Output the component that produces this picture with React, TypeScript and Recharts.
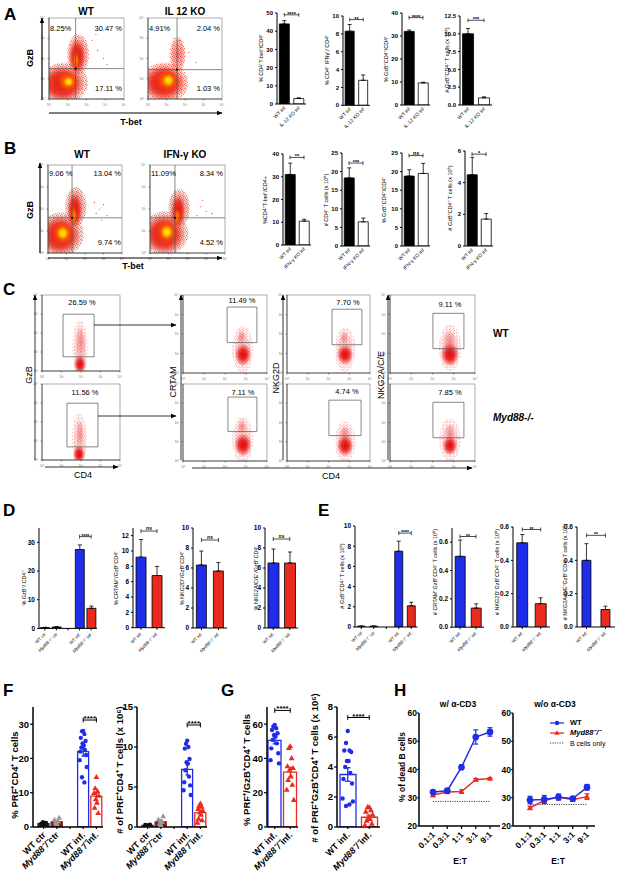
import React from "react";
import {
  BarChart, Bar, Cell, XAxis, YAxis, ZAxis, ErrorBar, ReferenceLine, ReferenceArea, ReferenceDot,
  ComposedChart, Scatter, ScatterChart, LineChart, Line,
} from "recharts";

const FONT = "Arial, 'Liberation Sans', Helvetica, sans-serif";
const BLUE = "#1f2de8";
const RED = "#ea2a1f";
const NAVY = "#1b1f6b";
const DRED = "#8a1414";

// ---------- A: IL-12 KO bars
const catsA = ["WT inf", "IL-12 KO inf"];
const tbetA = [44, 3.0];
const tbetAErr = [1.8, 0.4];
const ifngA = [8.3, 2.8];
const ifngAErr = [0.75, 0.6];
const gzbPctA = [32, 9.6];
const gzbPctAErr = [0.6, 0.3];
const gzbNumA = [10.0, 1.0];
const gzbNumAErr = [0.75, 0.15];

// ---------- B: IFN-g KO bars
const catsB = ["WT inf", "IFN-γ KO inf"];
const tbetB = [31, 10.5];
const tbetBErr = [5, 0.8];
const cd4NumB = [18.3, 6.5];
const cd4NumBErr = [2.7, 1.0];
const gzbPctB = [18.8, 19.5];
const gzbPctBErr = [1.7, 2.7];
const gzbNumB = [4.5, 1.7];
const gzbNumBErr = [1.1, 0.35];

// ---------- D / E
const cats4 = ["WT ctr", "Myd88 ctr", "", "WT inf.", "Myd88 inf."];
const cats2 = ["WT inf.", "Myd88 inf."];
const gzbPctD = [0.3, 0.5, 0, 27.5, 7.0];
const gzbPctDErr = [0.1, 0.1, 0, 1.6, 0.8];
const crtamD = [9.2, 6.8];
const crtamDErr = [2.3, 1.2];
const nkg2dD = [6.3, 5.7];
const nkg2dDErr = [1.4, 0.85];
const nkg2aD = [6.5, 6.5];
const nkg2aDErr = [1.4, 1.1];
const gzbNumE = [0.08, 0.08, 0, 7.5, 2.1];
const gzbNumEErr = [0.02, 0.02, 0, 1.0, 0.35];
const crtamE = [0.5, 0.135];
const crtamEErr = [0.115, 0.03];
const nkg2dE = [0.505, 0.14];
const nkg2dEErr = [0.05, 0.035];
const nkg2aE = [0.4, 0.105];
const nkg2aEErr = [0.1, 0.02];

// ---------- F / G
const catsF = ["WT ctr", "Myd88ctr", "", "WT inf.", "Myd88inf."];
const slotsF = [1, 2, 4, 5];
const catsG = ["WT inf.", "Myd88inf."];
const slotsG = [1, 2];
const prfPctF = [1.0, 1.5, 22, 9.0];
const prfPctFErr = [0.2, 0.3, 1.3, 1.2];
const prfPctWtCtr = [0.4, 0.6, 0.8, 1.0, 1.2, 1.4, 0.9];
const prfPctMydCtr = [0.8, 1.2, 1.5, 2.0, 2.6, 1.0];
const prfPctWtInf = [28, 27.9, 27.1, 26, 25.1, 24.4, 23.8, 23.2, 22.5, 22, 21, 19.5, 17.5, 14.5, 13];
const prfPctMydInf = [14.5, 11.2, 10.3, 9.8, 9, 8, 7, 5.5, 4];
const prfNumF = [0.2, 0.65, 7.2, 1.8];
const prfNumFErr = [0.05, 0.2, 0.7, 0.3];
const prfNumWtCtr = [0.1, 0.15, 0.2, 0.25, 0.3, 0.2];
const prfNumMydCtr = [0.2, 0.4, 0.6, 0.9, 1.3, 0.5];
const prfNumWtInf = [10.8, 10.4, 10.0, 9.8, 8.5, 8.1, 7.9, 7.1, 6.3, 5.6, 5.2, 4.6, 4.0];
const prfNumMydInf = [2.9, 2.6, 2.5, 2.2, 2.0, 1.8, 1.5, 1.0, 0.8, 0.5];
const prfGzbPctG = [50.5, 32];
const prfGzbPctGErr = [2.0, 2.8];
const prfGzbPctWt = [59.6, 58.6, 57.6, 56.6, 54.7, 53.7, 52.7, 50.8, 48.8, 45.9, 43, 39, 37.1];
const prfGzbPctMyd = [46.9, 45.9, 40, 35.2, 34.2, 33.2, 29.3, 27.3, 24.4, 21.5, 15.6];
const prfGzbNumG = [3.5, 0.65];
const prfGzbNumGErr = [0.45, 0.15];
const prfGzbNumWt = [6.4, 5.6, 5.1, 5.1, 5.0, 4.4, 4.4, 4.0, 3.6, 3.2, 2.9, 1.9, 1.7, 1.4, 1.5];
const prfGzbNumMyd = [1.3, 1.3, 1.1, 1.0, 0.8, 0.6, 0.5, 0.4, 0.2, 0.1];

// ---------- H: killing assay
const ratiosH = ["0.1:1", "0.3:1", "1:1", "3:1", "9:1"];
const wtH1 = [32, 32.5, 40.8, 51.5, 53.3];
const wtH1Err = [0.5, 0.5, 0.8, 2.5, 1.5];
const mydH1 = [31, 32, 32.2, 36.4, 36.8];
const mydH1Err = [0.6, 0.4, 0.6, 0.4, 0.3];
const bOnlyH1 = [28.7, 28.7, 28.7, 28.7, 28.7];
const wtH2 = [29.2, 29.4, 30.2, 29.7, 33.7];
const wtH2Err = [1.3, 1.4, 1.0, 0.5, 1.0];
const mydH2 = [26.4, 29, 30.3, 29.3, 30.4];
const mydH2Err = [0.6, 1.0, 1.0, 0.6, 1.0];
const bOnlyH2 = [27.6, 27.6, 27.6, 27.6, 27.6];

// ---------- flow clouds: [centre x, centre y, spread x, spread y] in log decades
type Blob = [number, number, number, number];
const aWtHalo: Blob[] = [[0.8, 0.8, 1.35, 1.05], [1.55, 2.2, 0.62, 1.05]];
const aWtBody: Blob[] = [[0.7, 0.75, 1.15, 0.9], [1.5, 2.1, 0.45, 0.85]];
const aWtCore: Blob[] = [[1.0, 0.85, 0.6, 0.5], [1.45, 1.9, 0.2, 0.5]];
const aWtHot: Blob[] = [[1.05, 0.85, 0.28, 0.25]];
const aWtDots = [{ x: 2.6, y: 2.4 }, { x: 2.9, y: 2.0 }, { x: 2.3, y: 2.9 }, { x: 3.1, y: 1.7 }, { x: 2.5, y: 3.2 }];
const aKoHalo: Blob[] = [[0.9, 0.8, 1.35, 1.05], [1.6, 2.2, 0.45, 0.9]];
const aKoBody: Blob[] = [[0.85, 0.8, 1.15, 0.88]];
const aKoCore: Blob[] = [[1.05, 0.9, 0.65, 0.55]];
const aKoHot: Blob[] = [[1.1, 0.92, 0.32, 0.3]];
const aKoDots = [{ x: 1.7, y: 2.9 }, { x: 2.2, y: 2.3 }, { x: 1.4, y: 3.0 }, { x: 2.6, y: 1.8 }];
const bWtHalo: Blob[] = [[0.7, 0.85, 1.3, 1.05], [1.5, 2.1, 0.6, 0.95]];
const bWtBody: Blob[] = [[0.65, 0.8, 1.1, 0.9], [1.45, 1.95, 0.4, 0.8]];
const bWtCore: Blob[] = [[0.8, 0.9, 0.6, 0.55], [1.4, 1.7, 0.2, 0.45]];
const bWtHot: Blob[] = [[0.8, 0.9, 0.32, 0.3]];
const bWtDots = [{ x: 2.8, y: 2.0 }, { x: 3.0, y: 2.2 }, { x: 2.6, y: 1.8 }, { x: 3.2, y: 1.7 }, { x: 2.9, y: 1.5 }, { x: 2.5, y: 2.3 }];
const bKoHalo: Blob[] = [[0.8, 0.9, 1.3, 1.05], [1.55, 2.05, 0.6, 0.9]];
const bKoBody: Blob[] = [[0.75, 0.85, 1.1, 0.9], [1.5, 1.9, 0.38, 0.75]];
const bKoCore: Blob[] = [[0.9, 0.95, 0.6, 0.55], [1.45, 1.65, 0.2, 0.4]];
const bKoHot: Blob[] = [[0.9, 0.95, 0.32, 0.3]];
const bKoDots = [{ x: 2.7, y: 2.1 }, { x: 3.0, y: 1.9 }, { x: 2.5, y: 1.7 }, { x: 3.3, y: 1.8 }, { x: 2.8, y: 2.4 }];
// panel C: halo (sparse), tail (faint upper part), body (dense)
const cGzbWtHalo: Blob[] = [[1.95, 1.2, 0.4, 1.45]];
const cGzbWtTail: Blob[] = [[1.98, 1.5, 0.25, 0.95]];
const cGzbWtBody: Blob[] = [[1.95, 0.35, 0.32, 0.5]];
const cGzbKoHalo: Blob[] = [[1.92, 1.1, 0.38, 1.35]];
const cGzbKoTail: Blob[] = [[1.95, 1.35, 0.2, 0.75]];
const cGzbKoBody: Blob[] = [[1.9, 0.3, 0.32, 0.48]];
const cCrtamWtHalo: Blob[] = [[2.84, 1.2, 0.5, 1.2]];
const cCrtamWtTail: Blob[] = [[2.78, 1.85, 0.22, 0.45]];
const cCrtamWtBody: Blob[] = [[2.86, 0.95, 0.4, 0.58]];
const cNkg2dWtHalo: Blob[] = [[2.8, 1.2, 0.5, 1.15]];
const cNkg2dWtTail: Blob[] = [[2.75, 1.8, 0.2, 0.42]];
const cNkg2dWtBody: Blob[] = [[2.8, 0.95, 0.4, 0.52]];
const cNkg2aWtHalo: Blob[] = [[2.82, 1.3, 0.52, 1.2]];
const cNkg2aWtTail: Blob[] = [[2.8, 1.6, 0.3, 0.6]];
const cNkg2aWtBody: Blob[] = [[2.82, 0.95, 0.44, 0.62]];
const cCrtamKoHalo: Blob[] = [[2.84, 1.1, 0.5, 1.2]];
const cCrtamKoTail: Blob[] = [[2.8, 1.8, 0.22, 0.45]];
const cCrtamKoBody: Blob[] = [[2.86, 0.85, 0.42, 0.6]];
const cNkg2dKoHalo: Blob[] = [[2.8, 1.0, 0.5, 1.05]];
const cNkg2dKoTail: Blob[] = [[2.78, 1.4, 0.25, 0.5]];
const cNkg2dKoBody: Blob[] = [[2.8, 0.8, 0.4, 0.55]];
const cNkg2aKoHalo: Blob[] = [[2.82, 1.1, 0.5, 1.1]];
const cNkg2aKoTail: Blob[] = [[2.82, 1.4, 0.25, 0.55]];
const cNkg2aKoBody: Blob[] = [[2.82, 0.8, 0.35, 0.5]];
// gates: [x1, x2, y1, y2]
const gatesC: Record<string, [number, number, number, number]> = {
  gzbWt: [1.08, 2.67, 0.75, 2.99], gzbKo: [1.28, 2.87, 0.69, 2.99],
  crtamWt: [2.1, 3.52, 1.56, 3.38], nkg2dWt: [2.17, 3.61, 1.45, 3.27], nkg2aWt: [2.02, 3.48, 1.25, 3.06],
  crtamKo: [2.14, 3.52, 1.53, 3.32], nkg2dKo: [2.02, 3.57, 1.32, 3.16], nkg2aKo: [2.02, 3.48, 1.21, 3.05],
};
const decades = [0, 1, 2, 3, 4];
const JIT = [0, -1, 1, -2, 2, -0.5, 0.5, -1.5, 1.5, -2.5, 2.5, -3, 3, -1, 1];

function CatTick(props: any) {
  const { x, y, payload, fs, bold } = props;
  const raw = payload.value;
  if (!raw) return null;
  const v = String(raw);
  const content = v.startsWith("Myd88") ? (
    <>
      <tspan fontStyle="italic">Myd88⁻/⁻</tspan>
      <tspan>{v.slice(5)}</tspan>
    </>
  ) : v;
  const px = x + fs * 0.3;
  const py = y + fs * 0.5;
  return (
    <text x={px} y={py} textAnchor="end" fontSize={fs} fontWeight={bold ? 700 : 400} fill="#000" transform={`rotate(-45 ${px} ${py})`}>
      {content}
    </text>
  );
}

function LogTick(props: any) {
  const { x, y, payload, axis } = props;
  const sup = ["⁰", "¹", "²", "³", "⁴"][payload.value];
  return axis === "y" ? (
    <text x={x - 0.5} y={y + 1} textAnchor="end" fontSize={3.2} fill="#777">10{sup}</text>
  ) : (
    <text x={x} y={y + 3} textAnchor="middle" fontSize={3.2} fill="#777">10{sup}</text>
  );
}

function blobShape(fill: string) {
  return (props: any) => {
    const { x, y, width, height, clipPath } = props;
    if (![x, y, width, height].every((n) => Number.isFinite(n))) return <g />;
    return <ellipse cx={x + width / 2} cy={y + height / 2} rx={Math.abs(width) / 2} ry={Math.abs(height) / 2} fill={fill} clipPath={clipPath} />;
  };
}

function bracket(a: any, b: any, y: number, d: number, text: string, fs: number, sw: number, axisId: any = 0) {
  const common = { stroke: "#000", strokeWidth: sw, ifOverflow: "visible" as const, xAxisId: axisId };
  const isNs = text === "ns";
  return [
    <ReferenceLine key="bm" segment={[{ x: a, y }, { x: b, y }]} {...common}
      label={{ value: text, position: "top", fontSize: fs, fill: "#000", offset: isNs ? 1 : -1, fontStyle: isNs ? "italic" : "normal", fontWeight: 700 }} />,
    <ReferenceLine key="ba" segment={[{ x: a, y: y - d }, { x: a, y: y + d }]} {...common} />,
    <ReferenceLine key="bb" segment={[{ x: b, y: y - d }, { x: b, y: y + d }]} {...common} />,
  ];
}

function BarPanel(p: any) {
  const yw = 24, mt = 12, xh = 40, mr = 3;
  const w = p.x1 - p.x0 + yw + mr;
  const h = p.yBot - p.yTop + mt + xh;
  const rows = p.cats.map((c: string, i: number) => ({ cat: c, v: p.vals[i], e: [0, p.errs[i]] }));
  const span = p.domain[1] - p.domain[0];
  const [ia, ib, sy, st] = p.sig;
  return (
    <div style={{ position: "absolute", left: p.x0 - yw, top: p.yTop - mt }}>
      <BarChart width={w} height={h} data={rows} margin={{ top: mt, right: mr, left: 0, bottom: 0 }} barCategoryGap={p.gap}>
        <XAxis dataKey="cat" interval={0} height={xh} tickSize={p.xTick ? 2 : 0} tickLine={p.xTick ? { stroke: "#000" } : false}
          axisLine={{ stroke: "#000", strokeWidth: 1 }} tick={<CatTick fs={p.catFs} />} />
        <YAxis type="number" domain={p.domain} ticks={p.ticks} interval={0} allowDataOverflow width={yw} tickSize={2}
          tickFormatter={p.fmt} tick={{ fontSize: p.tickFs, fill: "#000", fontWeight: 700 }}
          axisLine={{ stroke: "#000", strokeWidth: 1 }} tickLine={{ stroke: "#000" }} />
        <Bar dataKey="v" stroke="#000" strokeWidth={0.8} isAnimationActive={false}>
          {rows.map((_r: any, i: number) => <Cell key={i} fill={p.fills[i]} />)}
          <ErrorBar dataKey="e" width={2} stroke="#000" strokeWidth={0.8} direction="y" />
        </Bar>
        {bracket(p.cats[ia], p.cats[ib], sy, span * 0.02, st, p.sigFs, 0.7)}
      </BarChart>
    </div>
  );
}

function DotBarPanel(p: any) {
  const yw = 22, mt = 12, xh = 48, mr = 3;
  const w = p.x1 - p.x0 + yw + mr;
  const h = p.yBot - p.yTop + mt + xh;
  const n = p.cats.length;
  const rows = p.cats.map((c: string, i: number) => {
    const gi = p.slots.indexOf(i + 1);
    return { name: c, y: gi >= 0 ? p.vals[gi] : 0 };
  });
  const span = p.domain[1] - p.domain[0];
  const [sa, sb, sy] = p.sig;
  const pad = { left: p.padL || 0, right: 0 };
  const cap = 0.13;
  return (
    <div style={{ position: "absolute", left: p.x0 - yw, top: p.yTop - mt }}>
      <ComposedChart width={w} height={h} data={rows} margin={{ top: mt, right: mr, left: 0, bottom: 0 }}>
        <XAxis xAxisId="c" dataKey="name" type="category" interval={0} padding={pad} height={xh}
          tickSize={2} tickLine={{ stroke: "#000", strokeWidth: 1.2 }} axisLine={{ stroke: "#000", strokeWidth: 1.5 }}
          tick={<CatTick fs={9} bold />} />
        <XAxis xAxisId="n" type="number" dataKey="x" domain={[0.5, n + 0.5]} padding={pad} allowDataOverflow hide />
        <YAxis type="number" domain={p.domain} ticks={p.ticks} interval={0} allowDataOverflow width={yw} tickSize={3} tickMargin={1}
          tick={{ fontSize: 9.5, fill: "#000", fontWeight: 700 }} axisLine={{ stroke: "#000", strokeWidth: 1.5 }}
          tickLine={{ stroke: "#000", strokeWidth: 1.2 }} />
        <ZAxis range={[15, 15]} />
        <Bar xAxisId="c" dataKey="y" barSize={p.barSize} isAnimationActive={false}>
          {rows.map((_r: any, i: number) => {
            const gi = p.slots.indexOf(i + 1);
            return <Cell key={i} fill={gi >= 0 ? p.barFills[gi] : "none"} stroke={gi >= 0 ? p.barStrokes[gi] : "none"} strokeWidth={1.3} />;
          })}
        </Bar>
        {p.pts.map((arr: number[], gi: number) => (
          <Scatter key={`p${gi}`} xAxisId="n" dataKey="y" fill={p.ptColors[gi]} shape={p.ptShapes[gi]} isAnimationActive={false}
            data={arr.map((v, j) => ({ x: p.slots[gi] + JIT[j % JIT.length] * p.spread, y: v }))} />
        ))}
        {p.slots.map((s: number, gi: number) => {
          const v = p.vals[gi], e = p.errs[gi];
          const c = { stroke: p.barStrokes[gi], strokeWidth: 1.3, ifOverflow: "visible" as const, xAxisId: "n" };
          return [
            <ReferenceLine key={`ev${gi}`} segment={[{ x: s, y: v - e }, { x: s, y: v + e }]} {...c} />,
            <ReferenceLine key={`et${gi}`} segment={[{ x: s - cap, y: v + e }, { x: s + cap, y: v + e }]} {...c} />,
            <ReferenceLine key={`eb${gi}`} segment={[{ x: s - cap, y: v - e }, { x: s + cap, y: v - e }]} {...c} />,
          ];
        })}
        {bracket(sa, sb, sy, span * 0.02, "****", 8, 1, "n")}
      </ComposedChart>
    </div>
  );
}

function TriDot(props: any) {
  const { cx, cy } = props;
  if (cx == null || cy == null) return <g />;
  return <path d={`M${cx},${cy - 3.2} L${cx + 3},${cy + 2.2} L${cx - 3},${cy + 2.2} Z`} fill={RED} />;
}

function LinePanel(p: any) {
  const yw = 20, mt = 6, xh = 36, mr = 3;
  const w = p.x1 - p.x0 + yw + mr;
  const h = p.yBot - p.yTop + mt + xh;
  const rows = ratiosH.map((c, i) => ({ cat: c, wt: p.wt[i], wtE: p.wtE[i], myd: p.myd[i], mydE: p.mydE[i], b: p.bOnly[i] }));
  return (
    <div style={{ position: "absolute", left: p.x0 - yw, top: p.yTop - mt }}>
      <LineChart width={w} height={h} data={rows} margin={{ top: mt, right: mr, left: 0, bottom: 0 }}>
        <XAxis dataKey="cat" interval={0} padding={{ left: p.padL, right: p.padR }} height={xh} tickSize={3}
          tickLine={{ stroke: "#000", strokeWidth: 1.2 }} axisLine={{ stroke: "#000", strokeWidth: 1.5 }}
          tick={<CatTick fs={8.5} bold />} />
        <YAxis type="number" domain={[20, 60]} ticks={[20, 30, 40, 50, 60]} interval={0} allowDataOverflow width={yw} tickSize={2} tickMargin={0}
          tick={{ fontSize: 8.5, fill: "#000", fontWeight: 700 }} axisLine={{ stroke: "#000", strokeWidth: 1.5 }}
          tickLine={{ stroke: "#000", strokeWidth: 1.2 }} />
        <Line dataKey="b" stroke="#444" strokeWidth={1} strokeDasharray="1.2 1.2" dot={false} isAnimationActive={false} />
        <Line dataKey="myd" stroke={RED} strokeWidth={1.5} dot={<TriDot />} isAnimationActive={false}>
          <ErrorBar dataKey="mydE" width={2.5} stroke={RED} strokeWidth={1.2} direction="y" />
        </Line>
        <Line dataKey="wt" stroke={BLUE} strokeWidth={1.5} dot={{ r: 2.6, fill: BLUE, stroke: BLUE }} isAnimationActive={false}>
          <ErrorBar dataKey="wtE" width={2.5} stroke={BLUE} strokeWidth={1.2} direction="y" />
        </Line>
      </LineChart>
    </div>
  );
}

function FlowPlot(p: any) {
  const ml = 9, mb = 7;
  const layers: [Blob[], string][] = p.layers;
  return (
    <div style={{ position: "absolute", left: p.left - ml, top: p.top }}>
      <ScatterChart width={p.w + ml + 1} height={p.h + mb + 1} margin={{ top: 0, right: 1, left: 0, bottom: 0 }}>
        <XAxis type="number" dataKey="x" domain={[0, 4]} ticks={decades} interval={0} allowDataOverflow height={mb} tickSize={1.5}
          tick={<LogTick axis="x" />} axisLine={{ stroke: "#333", strokeWidth: 0.7 }} tickLine={{ stroke: "#333", strokeWidth: 0.5 }} />
        <YAxis type="number" dataKey="y" domain={[0, 4]} ticks={decades} interval={0} allowDataOverflow width={ml} tickSize={1.5}
          tick={<LogTick axis="y" />} axisLine={{ stroke: "#333", strokeWidth: 0.7 }} tickLine={{ stroke: "#333", strokeWidth: 0.5 }} />
        {layers.map(([blobs, fill], li) =>
          blobs.map((b, i) => (
            <ReferenceArea key={`${li}-${i}`} x1={b[0] - b[2]} x2={b[0] + b[2]} y1={b[1] - b[3]} y2={b[1] + b[3]}
              ifOverflow="hidden" shape={blobShape(fill)} />
          ))
        )}
        <Scatter data={p.dots || []} fill="#e8281c" isAnimationActive={false}
          shape={(s: any) => <circle cx={s.cx} cy={s.cy} r={0.55} fill="#e8281c" />} />
        {p.q && <ReferenceLine x={p.q[0]} stroke="#555" strokeWidth={0.7} />}
        {p.q && <ReferenceLine y={p.q[1]} stroke="#555" strokeWidth={0.7} />}
        {p.q && <ReferenceDot x={p.q[0]} y={p.q[1]} r={1.1} fill="#000" stroke="none" />}
        {p.gate && (
          <ReferenceArea x1={p.gate[0]} x2={p.gate[1]} y1={p.gate[2]} y2={p.gate[3]} fill="none" fillOpacity={0}
            stroke="#555" strokeWidth={0.7} ifOverflow="visible" />
        )}
        <ReferenceArea x1={0} x2={4} y1={0} y2={4} fill="none" fillOpacity={0} stroke="#777" strokeWidth={0.6} ifOverflow="visible" />
      </ScatterChart>
    </div>
  );
}

function T(p: any) {
  const a = p.anchor || "middle";
  const tx = a === "middle" ? "-50%" : a === "end" ? "-100%" : "0";
  return (
    <div style={{
      position: "absolute", left: p.x, top: p.y, transform: `translate(${tx}, -50%)`, fontSize: p.fs || 8,
      fontWeight: p.bold ? 700 : 400, fontStyle: p.italic ? "italic" : "normal", whiteSpace: "nowrap", lineHeight: 1, color: "#000",
    }}>{p.children}</div>
  );
}

function VLabel(p: any) {
  return (
    <div style={{
      position: "absolute", left: p.x, top: p.y, transform: "translate(-50%, -50%) rotate(-90deg)", fontSize: p.fs || 5.5,
      fontWeight: p.bold ? 700 : 400, whiteSpace: "nowrap", lineHeight: 1, color: "#000",
    }}>{p.children}</div>
  );
}

function Defs() {
  return (
    <svg width={0} height={0} style={{ position: "absolute" }}>
      <defs>
        <radialGradient id="gHalo">
          <stop offset="0%" stopColor="#e8201a" stopOpacity={0.6} />
          <stop offset="70%" stopColor="#ec3020" stopOpacity={0.3} />
          <stop offset="100%" stopColor="#f04020" stopOpacity={0} />
        </radialGradient>
        <radialGradient id="gRed">
          <stop offset="0%" stopColor="#e0100a" stopOpacity={0.95} />
          <stop offset="60%" stopColor="#e61a0c" stopOpacity={0.75} />
          <stop offset="100%" stopColor="#f03010" stopOpacity={0} />
        </radialGradient>
        <radialGradient id="gOrange">
          <stop offset="0%" stopColor="#ff8c00" stopOpacity={1} />
          <stop offset="50%" stopColor="#ff6a00" stopOpacity={0.75} />
          <stop offset="100%" stopColor="#ff4000" stopOpacity={0} />
        </radialGradient>
        <radialGradient id="gYellow">
          <stop offset="0%" stopColor="#e6f500" stopOpacity={1} />
          <stop offset="50%" stopColor="#ffd000" stopOpacity={0.85} />
          <stop offset="100%" stopColor="#ffa000" stopOpacity={0} />
        </radialGradient>
        <radialGradient id="gRedC">
          <stop offset="0%" stopColor="#e00808" stopOpacity={1} />
          <stop offset="45%" stopColor="#e51010" stopOpacity={0.85} />
          <stop offset="80%" stopColor="#ea2020" stopOpacity={0.35} />
          <stop offset="100%" stopColor="#ef3030" stopOpacity={0} />
        </radialGradient>
        <radialGradient id="gRedCTail">
          <stop offset="0%" stopColor="#ea2a2a" stopOpacity={0.45} />
          <stop offset="60%" stopColor="#ee3a3a" stopOpacity={0.22} />
          <stop offset="100%" stopColor="#f04848" stopOpacity={0} />
        </radialGradient>
        <pattern id="pSpeck" width={4} height={4} patternUnits="userSpaceOnUse">
          <rect x={0.3} y={0.2} width={0.8} height={0.8} fill="#e82a1a" />
          <rect x={2.1} y={0.9} width={0.8} height={0.8} fill="#ef4a1a" />
          <rect x={1.0} y={2.0} width={0.8} height={0.8} fill="#e82a1a" />
          <rect x={3.0} y={2.6} width={0.8} height={0.8} fill="#ef3a1a" />
          <rect x={2.0} y={3.3} width={0.7} height={0.7} fill="#e82a1a" />
        </pattern>
        <pattern id="pSpeckC" width={3.4} height={3.4} patternUnits="userSpaceOnUse">
          <rect x={0.2} y={0.3} width={0.7} height={0.7} fill="#ee2a2a" />
          <rect x={2.0} y={1.0} width={0.7} height={0.7} fill="#ef4040" />
          <rect x={1.1} y={2.4} width={0.7} height={0.7} fill="#ee2a2a" />
        </pattern>
        <pattern id="pSpeckC2" width={3.4} height={3.4} patternUnits="userSpaceOnUse">
          <rect x={1.3} y={0.1} width={0.7} height={0.7} fill="#e82020" />
          <rect x={2.7} y={2.2} width={0.7} height={0.7} fill="#ee3030" />
          <rect x={0.1} y={1.7} width={0.7} height={0.7} fill="#e82020" />
        </pattern>
      </defs>
    </svg>
  );
}

function Arrows() {
  const lines: [number, number, number, number][] = [
    [42, 100, 42, 18], [49, 113, 222, 113], [40, 253, 40, 163], [48, 258, 222, 258],
    [35, 460, 35, 295], [181, 460, 181, 295], [283, 460, 283, 295], [388, 460, 388, 295],
    [45, 467, 118, 467], [192, 468, 472, 468], [94, 325, 176, 325], [98, 416, 176, 416],
  ];
  return (
    <svg width={617} height={872} style={{ position: "absolute", left: 0, top: 0, pointerEvents: "none" }}>
      <defs>
        <marker id="ah" markerWidth={6} markerHeight={6} refX={5} refY={3} orient="auto" markerUnits="userSpaceOnUse">
          <path d="M0,0.8 L5.5,3 L0,5.2 Z" fill="#000" />
        </marker>
      </defs>
      {lines.map((l, i) => (
        <line key={i} x1={l[0]} y1={l[1]} x2={l[2]} y2={l[3]} stroke="#000" strokeWidth={i < 4 ? 1.2 : 0.8} markerEnd="url(#ah)" />
      ))}
    </svg>
  );
}

function FlowQuadLabels(p: any) {
  return (
    <>
      <T x={p.l} y={p.top} fs={7.5} anchor="start">{p.ul}</T>
      <T x={p.r} y={p.top} fs={7.5} anchor="end">{p.ur}</T>
      <T x={p.r} y={p.bot} fs={7.5} anchor="end">{p.lr}</T>
    </>
  );
}

const grow = (bs: Blob[], k: number): Blob[] => bs.map((b) => [b[0], b[1], b[2] * k, b[3] * k]);

export default function App() {
  const flowA = (h: Blob[], b: Blob[], c: Blob[], y: Blob[]): [Blob[], string][] =>
    [[h, "url(#gHalo)"], [grow(h, 0.95), "url(#pSpeck)"], [b, "url(#gRed)"], [c, "url(#gOrange)"], [y, "url(#gYellow)"]];
  const flowC = (h: Blob[], t: Blob[], b: Blob[]): [Blob[], string][] =>
    [[h, "url(#pSpeckC)"], [grow(h, 0.7), "url(#pSpeckC2)"], [t, "url(#gRedCTail)"], [b, "url(#gRedC)"]];
  const fmt1 = (v: number) => v.toFixed(1);
  const abCommon = { tickFs: 6, catFs: 5, sigFs: 5.5, gap: "16%", fills: ["#000", "#fff"] };
  const deCommon = { tickFs: 6.5, catFs: 4.5, sigFs: 5, xTick: true };
  const fill4 = ["#777", "#333", "#fff", BLUE, RED];
  const fill2 = [BLUE, RED];
  return (
    <div style={{ position: "absolute", left: 0, top: 0, width: 617, height: 872, background: "#fff", fontFamily: FONT, overflow: "hidden" }}>
      <style>{`.recharts-surface{overflow:visible}`}</style>
      <Defs />

      {/* panel letters */}
      <T x={4} y={14} fs={17} bold anchor="start">A</T>
      <T x={4} y={148} fs={17} bold anchor="start">B</T>
      <T x={3} y={289} fs={17} bold anchor="start">C</T>
      <T x={3} y={510} fs={17} bold anchor="start">D</T>
      <T x={318} y={510} fs={17} bold anchor="start">E</T>
      <T x={3} y={690} fs={17} bold anchor="start">F</T>
      <T x={221} y={690} fs={17} bold anchor="start">G</T>
      <T x={394} y={690} fs={17} bold anchor="start">H</T>

      {/* A flow */}
      <FlowPlot left={49} top={18} w={75} h={80} q={[1.42, 1.5]} dots={aWtDots} layers={flowA(aWtHalo, aWtBody, aWtCore, aWtHot)} />
      <FlowPlot left={148} top={18} w={74} h={80} q={[1.57, 1.45]} dots={aKoDots} layers={flowA(aKoHalo, aKoBody, aKoCore, aKoHot)} />
      <T x={86} y={12} fs={10} bold>WT</T>
      <T x={185} y={12} fs={10} bold>IL 12 KO</T>
      <FlowQuadLabels l={50} r={122} top={29} bot={89} ul="8.25%" ur="30.47 %" lr="17.11 %" />
      <FlowQuadLabels l={149} r={220} top={29} bot={89} ul="4.91%" ur="2.04 %" lr="1.03 %" />
      <VLabel x={30} y={58} fs={9} bold>GzB</VLabel>
      <T x={131} y={122} fs={9} bold>T-bet</T>

      {/* B flow */}
      <FlowPlot left={48} top={165} w={74} h={87} q={[1.3, 1.6]} dots={bWtDots} layers={flowA(bWtHalo, bWtBody, bWtCore, bWtHot)} />
      <FlowPlot left={150} top={165} w={75} h={87} q={[1.33, 1.6]} dots={bKoDots} layers={flowA(bKoHalo, bKoBody, bKoCore, bKoHot)} />
      <T x={82} y={155} fs={10} bold>WT</T>
      <T x={185} y={155} fs={10} bold>IFN-γ KO</T>
      <FlowQuadLabels l={49} r={121} top={174} bot={243} ul="9.06 %" ur="13.04 %" lr="9.74 %" />
      <FlowQuadLabels l={151} r={223} top={174} bot={243} ul="11.09%" ur="8.34 %" lr="4.52 %" />
      <VLabel x={30} y={210} fs={9} bold>GzB</VLabel>
      <T x={133} y={266} fs={9} bold>T-bet</T>

      {/* A bars */}
      <BarPanel {...abCommon} x0={277} x1={306} yTop={13} yBot={104} cats={catsA} vals={tbetA} errs={tbetAErr}
        domain={[0, 50]} ticks={[0, 10, 20, 30, 40, 50]} sig={[0, 1, 49, "****"]} />
      <BarPanel {...abCommon} x0={343} x1={370} yTop={15.7} yBot={105} cats={catsA} vals={ifngA} errs={ifngAErr}
        domain={[0, 10]} ticks={[0, 2, 4, 6, 8, 10]} sig={[0, 1, 9.6, "**"]} />
      <BarPanel {...abCommon} x0={402} x1={430} yTop={13} yBot={105} cats={catsA} vals={gzbPctA} errs={gzbPctAErr}
        domain={[0, 40]} ticks={[0, 10, 20, 30, 40]} sig={[0, 1, 38, "****"]} />
      <BarPanel {...abCommon} x0={460} x1={492} yTop={16} yBot={105} cats={catsA} vals={gzbNumA} errs={gzbNumAErr}
        domain={[0, 12.5]} ticks={[0, 2.5, 5, 7.5, 10, 12.5]} fmt={fmt1} sig={[0, 1, 11.9, "***"]} />
      <VLabel x={262} y={58}>% CD4⁺T-bet⁺/CD4⁺</VLabel>
      <VLabel x={328} y={60}>% CD4⁺ IFNγ⁺/ CD4⁺</VLabel>
      <VLabel x={387} y={59}>% GzB⁺CD4⁺/CD4⁺</VLabel>
      <VLabel x={448} y={60}>{"# GzB⁺CD4⁺ T cells (x 10⁶)"}</VLabel>

      {/* B bars */}
      <BarPanel {...abCommon} x0={283} x1={311} yTop={154} yBot={245} cats={catsB} vals={tbetB} errs={tbetBErr}
        domain={[0, 40]} ticks={[0, 10, 20, 30, 40]} sig={[0, 1, 38.5, "**"]} />
      <BarPanel {...abCommon} x0={342} x1={370} yTop={153} yBot={246} cats={catsB} vals={cd4NumB} errs={cd4NumBErr}
        domain={[0, 25]} ticks={[0, 5, 10, 15, 20, 25]} sig={[0, 1, 22.3, "***"]} />
      <BarPanel {...abCommon} x0={402} x1={430} yTop={153} yBot={246} cats={catsB} vals={gzbPctB} errs={gzbPctBErr}
        domain={[0, 25]} ticks={[0, 5, 10, 15, 20, 25]} sig={[0, 1, 24.3, "ns"]} />
      <BarPanel {...abCommon} x0={465} x1={493} yTop={151} yBot={246} cats={catsB} vals={gzbNumB} errs={gzbNumBErr}
        domain={[0, 6]} ticks={[0, 2, 4, 6]} sig={[0, 1, 5.8, "*"]} />
      <VLabel x={266} y={200}>%CD4⁺T-bet⁺/CD4+</VLabel>
      <VLabel x={327} y={200}>{"# CD4⁺ T cells (x 10⁶)"}</VLabel>
      <VLabel x={385} y={200}>% GzB⁺CD4⁺/CD4⁺</VLabel>
      <VLabel x={451} y={198}>{"# GzB⁺CD4⁺ T cells (x 10⁶)"}</VLabel>

      {/* C flow */}
      <FlowPlot left={42} top={295} w={78} h={75} gate={gatesC.gzbWt} layers={flowC(cGzbWtHalo, cGzbWtTail, cGzbWtBody)} />
      <FlowPlot left={183} top={295} w={84} h={77} gate={gatesC.crtamWt} layers={flowC(cCrtamWtHalo, cCrtamWtTail, cCrtamWtBody)} />
      <FlowPlot left={287} top={295} w={83} h={77} gate={gatesC.nkg2dWt} layers={flowC(cNkg2dWtHalo, cNkg2dWtTail, cNkg2dWtBody)} />
      <FlowPlot left={390} top={295} w={85} h={77} gate={gatesC.nkg2aWt} layers={flowC(cNkg2aWtHalo, cNkg2aWtTail, cNkg2aWtBody)} />
      <FlowPlot left={42} top={384} w={78} h={75} gate={gatesC.gzbKo} layers={flowC(cGzbKoHalo, cGzbKoTail, cGzbKoBody)} />
      <FlowPlot left={183} top={384} w={84} h={76} gate={gatesC.crtamKo} layers={flowC(cCrtamKoHalo, cCrtamKoTail, cCrtamKoBody)} />
      <FlowPlot left={287} top={384} w={83} h={76} gate={gatesC.nkg2dKo} layers={flowC(cNkg2dKoHalo, cNkg2dKoTail, cNkg2dKoBody)} />
      <FlowPlot left={390} top={384} w={85} h={76} gate={gatesC.nkg2aKo} layers={flowC(cNkg2aKoHalo, cNkg2aKoTail, cNkg2aKoBody)} />
      <T x={82} y={303} fs={7.5}>26.59 %</T>
      <T x={242} y={301} fs={7.5}>11.49 %</T>
      <T x={348} y={303} fs={7.5}>7.70 %</T>
      <T x={450} y={305} fs={7.5}>9.11 %</T>
      <T x={85} y={393} fs={7.5}>11.56 %</T>
      <T x={243} y={393} fs={7.5}>7.11 %</T>
      <T x={347} y={392} fs={7.5}>4.74 %</T>
      <T x={450} y={393} fs={7.5}>7.85 %</T>
      <VLabel x={29} y={375} fs={9}>GzB</VLabel>
      <VLabel x={173} y={382} fs={9}>CRTAM</VLabel>
      <VLabel x={276} y={378} fs={9}>NKG2D</VLabel>
      <VLabel x={381} y={375} fs={9}>NKG2A/C/E</VLabel>
      <T x={83} y={475} fs={9}>CD4</T>
      <T x={331} y={476} fs={9}>CD4</T>
      <T x={493} y={334} fs={10} bold anchor="start">WT</T>
      <T x={493} y={418} fs={10} bold italic anchor="start">Myd88-/-</T>

      {/* D */}
      <BarPanel {...deCommon} x0={39} x1={97} yTop={527.6} yBot={628} cats={cats4} vals={gzbPctD} errs={gzbPctDErr} fills={fill4}
        gap="13%" domain={[0, 35]} ticks={[0, 10, 20, 30]} sig={[3, 4, 32, "****"]} />
      <BarPanel {...deCommon} x0={133} x1={165} yTop={528.3} yBot={628} cats={cats2} vals={crtamD} errs={crtamDErr} fills={fill2}
        gap="19%" domain={[0, 13]} ticks={[0, 2, 4, 6, 8, 10, 12]} sig={[0, 1, 12.6, "ns"]} />
      <BarPanel {...deCommon} x0={193} x1={227} yTop={528} yBot={628} cats={cats2} vals={nkg2dD} errs={nkg2dDErr} fills={fill2}
        gap="20%" domain={[0, 10]} ticks={[0, 2, 4, 6, 8, 10]} sig={[0, 1, 8.8, "ns"]} />
      <BarPanel {...deCommon} x0={265} x1={298} yTop={528} yBot={628} cats={cats2} vals={nkg2aD} errs={nkg2aDErr} fills={fill2}
        gap="18%" domain={[0, 10]} ticks={[0, 2, 4, 6, 8, 10]} sig={[0, 1, 8.9, "ns"]} />
      <VLabel x={25} y={588}>% GzB⁺/ CD4⁺</VLabel>
      <VLabel x={117} y={578}>% CRTAM⁺/GzB⁺CD4⁺</VLabel>
      <VLabel x={183} y={578}>% NKG2D⁺/GzB⁺CD4⁺</VLabel>
      <VLabel x={257} y={578}>% NKG2A/C/E⁺/GzB⁺CD4⁺</VLabel>

      {/* E */}
      <BarPanel {...deCommon} x0={355} x1={417.5} yTop={526} yBot={627} cats={cats4} vals={gzbNumE} errs={gzbNumEErr} fills={fill4}
        gap="18%" domain={[0, 10]} ticks={[0, 2, 4, 6, 8, 10]} sig={[3, 4, 9.3, "****"]} />
      <BarPanel {...deCommon} x0={452} x1={484} yTop={527.8} yBot={627} cats={cats2} vals={crtamE} errs={crtamEErr} fills={fill2}
        gap="20%" domain={[0, 0.7]} ticks={[0, 0.2, 0.4, 0.6]} fmt={fmt1} sig={[0, 1, 0.64, "**"]} />
      <BarPanel {...deCommon} x0={513} x1={550} yTop={527} yBot={627} cats={cats2} vals={nkg2dE} errs={nkg2dEErr} fills={fill2}
        gap="20%" domain={[0, 0.6]} ticks={[0, 0.2, 0.4, 0.6]} fmt={fmt1} sig={[0, 1, 0.585, "**"]} />
      <BarPanel {...deCommon} x0={577} x1={615} yTop={527} yBot={627} cats={cats2} vals={nkg2aE} errs={nkg2aEErr} fills={fill2}
        gap="26%" domain={[0, 0.6]} ticks={[0, 0.2, 0.4, 0.6]} fmt={fmt1} sig={[0, 1, 0.55, "**"]} />
      <VLabel x={343} y={576}>{"# GzB⁺CD4⁺ T cells (x 10⁶)"}</VLabel>
      <VLabel x={436} y={572}>{"# CRTAM⁺GzB⁺CD4⁺ T cells (x 10⁶)"}</VLabel>
      <VLabel x={498} y={572}>{"# NKG2D⁺GzB⁺CD4⁺ T cells (x 10⁶)"}</VLabel>
      <VLabel x={566} y={572}>{"# NKG2A/C/E⁺GzB⁺CD4⁺ T cells (x 10⁶)"}</VLabel>

      {/* F */}
      <DotBarPanel x0={33} x1={103} padL={4} yTop={707} yBot={827} cats={catsF} slots={slotsF}
        vals={prfPctF} errs={prfPctFErr} barSize={11} spread={0.09}
        barFills={[NAVY, DRED, "#fff", "#fff"]} barStrokes={[NAVY, DRED, BLUE, RED]}
        pts={[prfPctWtCtr, prfPctMydCtr, prfPctWtInf, prfPctMydInf]} ptColors={["#111", "#999", BLUE, RED]}
        ptShapes={["circle", "triangle", "circle", "triangle"]} domain={[0, 35]} ticks={[0, 10, 20, 30]} sig={[4, 5, 31.2]} />
      <DotBarPanel x0={137} x1={207} padL={4} yTop={707} yBot={827} cats={catsF} slots={slotsF}
        vals={prfNumF} errs={prfNumFErr} barSize={11} spread={0.09}
        barFills={[NAVY, DRED, "#fff", "#fff"]} barStrokes={[NAVY, DRED, BLUE, RED]}
        pts={[prfNumWtCtr, prfNumMydCtr, prfNumWtInf, prfNumMydInf]} ptColors={["#111", "#999", BLUE, RED]}
        ptShapes={["circle", "triangle", "circle", "triangle"]} domain={[0, 15]} ticks={[0, 5, 10, 15]} sig={[4, 5, 12.75]} />
      <VLabel x={15} y={775} fs={9.5} bold>% PRF⁺CD4⁺ T cells</VLabel>
      <VLabel x={120} y={770} fs={9.5} bold>{"# of PRF⁺CD4⁺ T cells (x 10⁶)"}</VLabel>

      {/* G */}
      <DotBarPanel x0={267} x1={298} yTop={707} yBot={827} cats={catsG} slots={slotsG}
        vals={prfGzbPctG} errs={prfGzbPctGErr} barSize={13} spread={0.09}
        barFills={["#fff", "#fff"]} barStrokes={[BLUE, RED]} pts={[prfGzbPctWt, prfGzbPctMyd]} ptColors={[BLUE, RED]}
        ptShapes={["circle", "triangle"]} domain={[0, 70]} ticks={[0, 20, 40, 60]} sig={[1, 2, 68]} />
      <DotBarPanel x0={337} x1={380} yTop={707} yBot={827} cats={catsG} slots={slotsG}
        vals={prfGzbNumG} errs={prfGzbNumGErr} barSize={16} spread={0.08}
        barFills={["#fff", "#fff"]} barStrokes={[BLUE, RED]} pts={[prfGzbNumWt, prfGzbNumMyd]} ptColors={[BLUE, RED]}
        ptShapes={["circle", "triangle"]} domain={[0, 8]} ticks={[0, 2, 4, 6, 8]} sig={[1, 2, 7.3]} />
      <VLabel x={247} y={770} fs={9.5} bold>% PRF⁺/GzB⁺CD4⁺ T cells</VLabel>
      <VLabel x={315} y={768} fs={9.5} bold>{"# of PRF⁺GzB⁺CD4⁺ T cells (x 10⁶)"}</VLabel>

      {/* H */}
      <LinePanel x0={419} x1={500} yTop={713} yBot={826} padL={14} padR={10}
        wt={wtH1} wtE={wtH1Err} myd={mydH1} mydE={mydH1Err} bOnly={bOnlyH1} />
      <LinePanel x0={513} x1={595} yTop={713} yBot={826} padL={17} padR={8}
        wt={wtH2} wtE={wtH2Err} myd={mydH2} mydE={mydH2Err} bOnly={bOnlyH2} />
      <T x={458} y={704} fs={8.5} bold>w/ α-CD3</T>
      <T x={555} y={704} fs={8.5} bold>w/o α-CD3</T>
      <VLabel x={402} y={767} fs={8.5} bold>% of dead  B cells</VLabel>
      <T x={460} y={861} fs={8.5} bold>E:T</T>
      <T x={558} y={861} fs={8.5} bold>E:T</T>
      <svg width={20} height={30} style={{ position: "absolute", left: 548, top: 718 }}>
        <line x1={2} y1={5} x2={16} y2={5} stroke={BLUE} strokeWidth={1.3} />
        <circle cx={9} cy={5} r={2.2} fill={BLUE} />
        <line x1={2} y1={15} x2={16} y2={15} stroke={RED} strokeWidth={1.3} />
        <path d="M9,12.3 L11.6,16.8 L6.4,16.8 Z" fill={RED} />
        <line x1={2} y1={25} x2={16} y2={25} stroke="#444" strokeWidth={1} strokeDasharray="1.2 1.2" />
      </svg>
      <T x={570} y={723} fs={7.5} bold anchor="start">WT</T>
      <T x={570} y={733} fs={7.5} bold italic anchor="start">Myd88⁻/⁻</T>
      <T x={570} y={743} fs={7} anchor="start">B cells only</T>

      <Arrows />
    </div>
  );
}
